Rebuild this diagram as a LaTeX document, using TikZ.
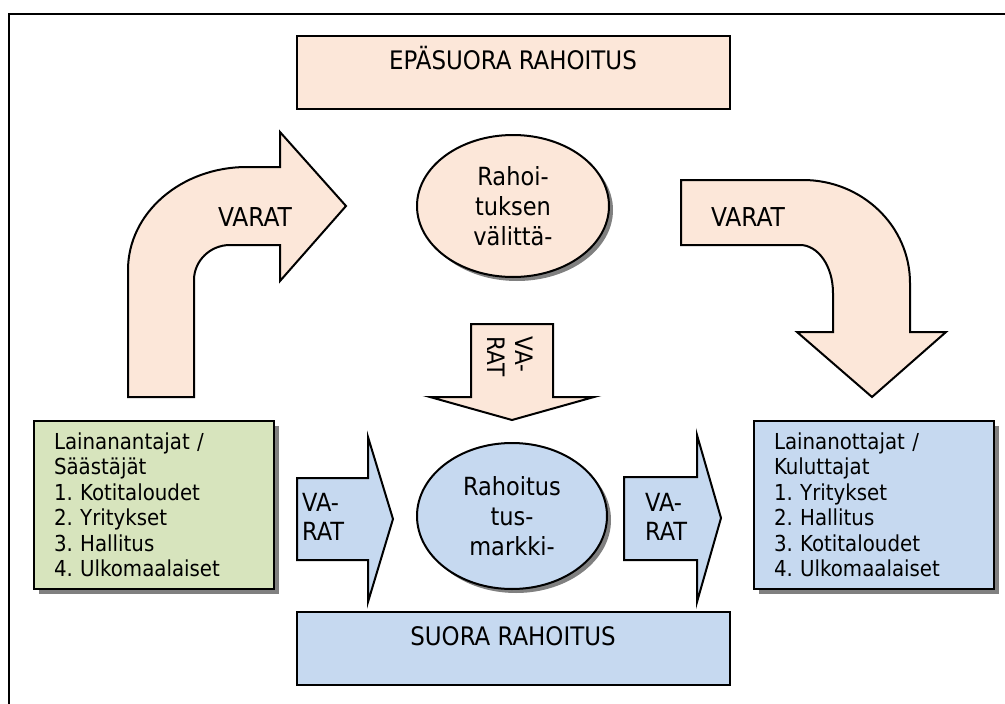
\documentclass[tikz,border=0pt]{standalone}
\usepackage{fontspec}
\setmainfont{DejaVu Sans Condensed}
\usepackage{tikz}
\usetikzlibrary{shapes.geometric, shadows}
\definecolor{peach}{RGB}{252,231,217}
\definecolor{paleblue}{RGB}{198,217,240}
\definecolor{palegreen}{RGB}{215,228,189}
\definecolor{shadowgrey}{RGB}{128,128,128}
\frenchspacing
\tikzset{
  outline/.style={draw=black, line width=2, line join=miter},
  titlebox/.style={outline, minimum width=433, minimum height=73, inner sep=0,
    text height=18, text depth=24, font=\fontsize{25.5}{30}\selectfont},
  listbox/.style={outline, anchor=north west, minimum height=168, text width=200,
    inner xsep=20, inner ysep=0, align=left, font=\fontsize{22}{25.5}\selectfont,
    drop shadow={shadow xshift=5pt, shadow yshift=-5pt, fill=shadowgrey, opacity=1}},
  bubble/.style={outline, ellipse, inner sep=0, align=center,
    font=\fontsize{25}{30}\selectfont,
    drop shadow={shadow xshift=4pt, shadow yshift=-4pt, fill=shadowgrey, opacity=1}},
  arrowtext/.style={inner sep=0, align=left, font=\fontsize{25}{29}\selectfont}
}
\begin{document}
\begin{tikzpicture}[x=1pt, y=-1pt]
\useasboundingbox (0,0) rectangle (1005,704);
\clip (0,0) rectangle (1005,704);
\draw[line width=2] (9,14) rectangle (1012,712);

% indirect finance, top
\node[titlebox, fill=peach] (indirect) at (513,72) {EPÄSUORA RAHOITUS};

\draw[outline, fill=peach] (128,397) -- (128,270) .. controls (128,213) and (181,167) .. (247,167)
  -- (280,167) -- (280,132) -- (346,206) -- (280,281) -- (280,245) -- (230,245)
  .. controls (210,245) and (194,261) .. (194,280) -- (194,397) -- cycle;
\node[arrowtext, font=\fontsize{26}{30}\selectfont] (fundsA) at (255,217) {VARAT};

\node[bubble, fill=peach, minimum width=192, minimum height=142] (broker) at (513,206) {Rahoi-\\tuksen\\välittä-};

\draw[outline, fill=peach] (681,180) -- (803,180) .. controls (862,180) and (910,226) .. (910,283)
  -- (910,332) -- (946,332) -- (872,397) -- (797,332) -- (833,332) -- (833,293)
  .. controls (833,266) and (818,245) .. (800,245) -- (681,245) -- cycle;
\node[arrowtext, font=\fontsize{26}{30}\selectfont] (fundsB) at (748,217) {VARAT};

\draw[outline, fill=peach] (471,324) -- (553,324) -- (553,397) -- (594,397) -- (512,420)
  -- (430,397) -- (471,397) -- cycle;
\node[arrowtext, rotate=-90, font=\fontsize{24}{28}\selectfont] (fundsC) at (510,357) {VA-\\RAT};

% direct finance, bottom
\node[listbox, fill=palegreen] (lenders) at (33,420) {Lainanantajat /\\Säästäjät\\1. Kotitaloudet\\2. Yritykset\\3. Hallitus\\4. Ulkomaalaiset};
\node[listbox, fill=paleblue] (borrowers) at (753,420) {Lainanottajat /\\Kuluttajat\\1. Yritykset\\2. Hallitus\\3. Kotitaloudet\\4. Ulkomaalaiset};

\draw[outline, fill=paleblue] (297,478) -- (368,478) -- (368,437) -- (393,519) -- (368,602)
  -- (368,560) -- (297,560) -- cycle;
\node[arrowtext, anchor=west] (fundsD) at (302,517) {VA-\\RAT};

\node[bubble, fill=paleblue, minimum width=190, minimum height=146] (market) at (512,516) {Rahoitus\\tus-\\markki-};

\draw[outline, fill=paleblue] (624,477) -- (697,477) -- (697,435) -- (721,518) -- (697,602)
  -- (697,560) -- (624,560) -- cycle;
\node[arrowtext, anchor=west] (fundsE) at (645,517) {VA-\\RAT};

\node[titlebox, fill=paleblue] (direct) at (513,648.5) {SUORA RAHOITUS};
\end{tikzpicture}
\end{document}
